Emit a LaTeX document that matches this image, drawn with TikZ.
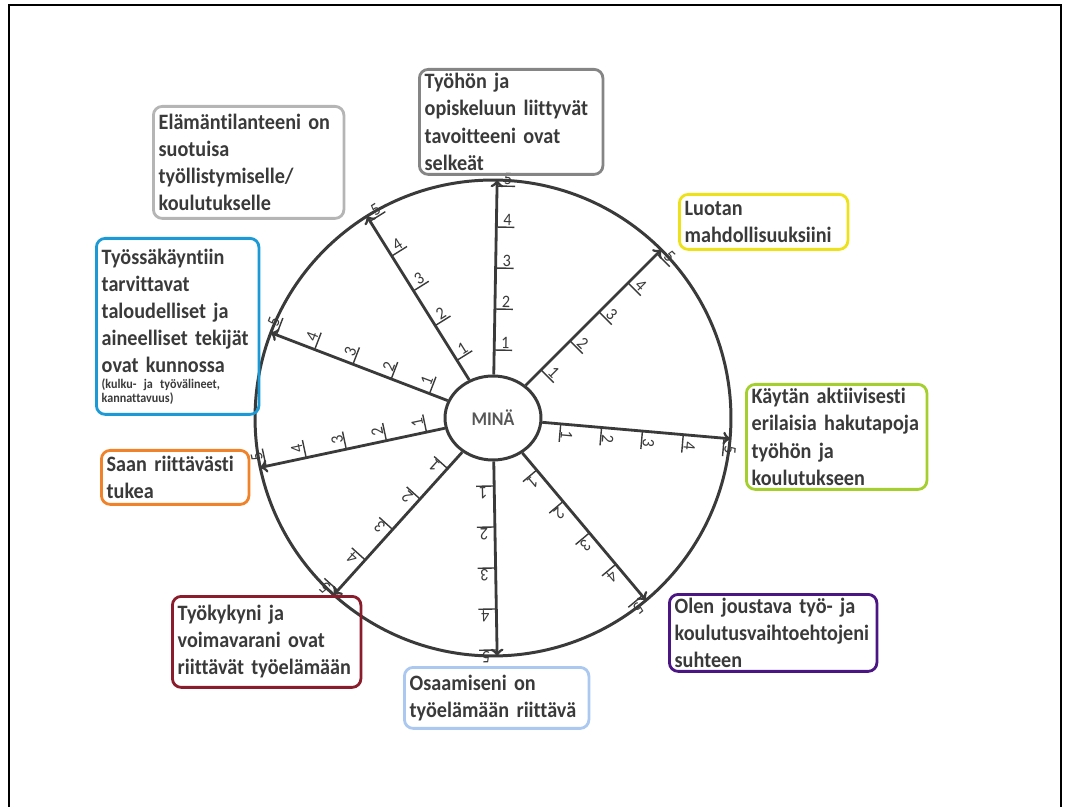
\documentclass[tikz,border=0pt]{standalone}
\usepackage{fontspec}
\setmainfont{Carlito}[Ligatures={NoCommon}, FakeStretch=0.92]
\usetikzlibrary{shapes.geometric}

\definecolor{ink}{HTML}{3A3A3A}
\definecolor{cardgrey}{HTML}{858585}
\definecolor{cardsilver}{HTML}{B5B5B5}
\definecolor{cardyellow}{HTML}{EDE21A}
\definecolor{cardblue}{HTML}{1C9AD6}
\definecolor{cardgreen}{HTML}{A4CF2E}
\definecolor{cardorange}{HTML}{F0822A}
\definecolor{cardpurple}{HTML}{4B1684}
\definecolor{cardred}{HTML}{8A1C2B}
\definecolor{cardsky}{HTML}{AAC8F0}

\tikzset{
  card/.style={draw, rounded corners=5pt, line width=1.6pt, anchor=north west,
    align=left, text=ink, inner xsep=3pt, inner ysep=1pt,
    font=\bfseries\fontsize{12.5}{15.4}\selectfont},
  spoke/.style={draw=ink, line width=1.6pt, ->},
  tick/.style={draw=ink, line width=0.8pt},
  num/.style={text=ink, inner sep=0pt, font=\fontsize{10}{10}\selectfont},
}

\begin{document}
\begin{tikzpicture}[x=0.02cm,y=-0.02cm]
	\useasboundingbox (0,0) rectangle (1072,807);
	\draw[line width=1.2pt] (9,807) -- (9,5) -- (1061,5) -- (1061,807);

	% the wheel
	\begin{scope}[shift={(493,418)}, y=0.02cm]
		\node[draw=ink, line width=1.7pt, circle, minimum size=9.52cm] (wheel) at (0,0) {};
		\node[draw=ink, line width=1.7pt, ellipse, minimum width=1.92cm, minimum height=1.68cm,
			text=ink!85, font=\bfseries\fontsize{11}{12}\selectfont] (mina) at (0,0) {MINÄ};
		\foreach \a [count=\i] in {89,45,-5,-50,-89,-132,-168,159,122} {
			\coordinate (rim\i) at (\a:238);
			\draw[spoke] (mina) -- (rim\i);
			\begin{scope}[rotate=\a]
				\foreach \k in {1,...,5} {
					\draw[tick] (27+41*\k,-1) -- (27+41*\k,-18);
					\node[num, rotate=\a-90] (n\i\k) at (34+41*\k,-11) {\k};
				}
			\end{scope}
		}
	\end{scope}

	% the cards
	\node[card, draw=cardgrey, text width=3.46cm, minimum height=2.1cm] (goals) at (418,68)
		{Työhön ja\\ opiskeluun liittyvät\\ tavoitteeni ovat\\ selkeät};
	\node[card, draw=cardsilver, text width=3.6cm, minimum height=2.24cm] (life) at (152,105)
		{Elämäntilanteeni on\\ suotuisa\\ työllistymiselle/\\ koulutukselle};
	\node[card, draw=cardyellow, text width=3.16cm, minimum height=1.1cm] (trust) at (678,193)
		{Luotan\\ mahdollisuuksiini};
	\node[card, draw=cardblue, text width=3.04cm, minimum height=3.52cm] (money) at (95,237)
		{Työssäkäyntiin\\ tarvittavat\\ taloudelliset ja\\ aineelliset tekijät\\ ovat kunnossa\par
		\vspace{2pt}{\fontsize{7.5}{7.5}\selectfont\hbox{(kulku- ja työvälineet,}\hbox{kannattavuus)}}};
	\node[card, draw=cardgreen, text width=3.4cm, minimum height=2.1cm] (search) at (745,383)
		{Käytän aktiivisesti\\ erilaisia hakutapoja\\ työhön ja\\ koulutukseen};
	\node[card, draw=cardorange, text width=2.74cm, minimum height=1.08cm] (support) at (100,449)
		{Saan riittävästi\\ tukea};
	\node[card, draw=cardpurple, text width=3.94cm, minimum height=1.54cm] (flex) at (668,593)
		{Olen joustava työ- ja\\ koulutusvaihtoehtojeni\\ suhteen};
	\node[card, draw=cardred, text width=3.56cm, minimum height=1.82cm] (health) at (171,595)
		{Työkykyni ja\\ voimavarani ovat\\ riittävät työelämään};
	\node[card, draw=cardsky, text width=3.48cm, minimum height=1.22cm] (skills) at (403,666)
		{Osaamiseni on\\ työelämään riittävä};
\end{tikzpicture}
\end{document}
